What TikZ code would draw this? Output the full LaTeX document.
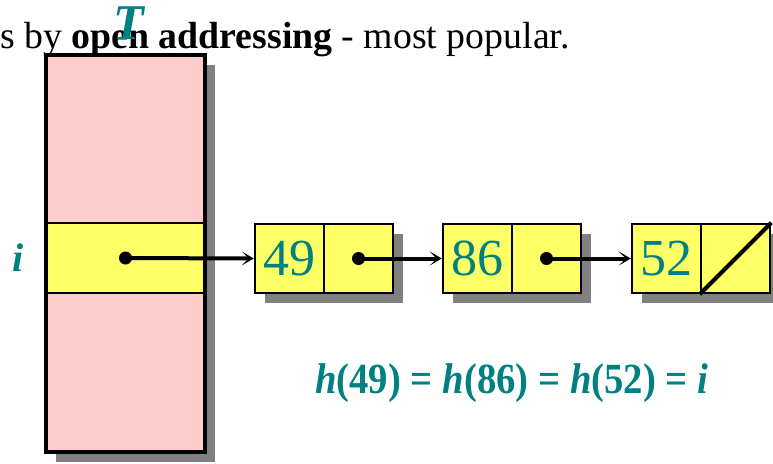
\documentclass[tikz,border=0pt]{standalone}
\usepackage{fontspec}
\newfontfamily\tms{Liberation Serif}
\usetikzlibrary{arrows.meta}
\definecolor{tblpink}{HTML}{FFCCCC}
\definecolor{rowyellow}{HTML}{FFFF66}
\definecolor{labelteal}{HTML}{008080}
\definecolor{shadowgray}{HTML}{808080}
\tikzset{
  cell/.style={draw, line width=2.5pt, fill=rowyellow, minimum width=69pt,
    minimum height=69pt, inner sep=0pt, text=labelteal,
    font=\tms\fontsize{52}{56}\selectfont},
  ptrdot/.style={circle, fill=black, inner sep=0pt, minimum size=13pt},
  ptrline/.style={draw=black, line width=4pt,
    -{Stealth[length=12pt,width=14pt,inset=7pt]}},
  shadowof/.style={fill=shadowgray}
}
\begin{document}
\begin{tikzpicture}[x=1pt,y=-1pt]
\useasboundingbox (0,0) rectangle (773,463);
\clip (0,0) rectangle (773,463);

% heading line
\node[anchor=base west, inner sep=0pt, font=\tms\fontsize{37.8}{40}\selectfont]
  (head) at (0,48) {s by \textbf{open addressing} - most popular.};

% table T with its shadow
\node[minimum width=159pt, minimum height=397pt, inner sep=0pt] (tbl) at (125.5,253.5) {};
\fill[shadowof] ([shift={(10,10)}]tbl.north west) rectangle ([shift={(10,10)}]tbl.south east);
\fill[tblpink] (tbl.north west) rectangle (tbl.south east);
\node[minimum width=159pt, minimum height=69pt, inner sep=0pt, fill=rowyellow] (row) at (125.5,258) {};
\draw[line width=2pt] (row.north west) -- (row.north east) (row.south west) -- (row.south east);
\draw[line width=3.5pt] (tbl.north west) rectangle (tbl.south east);

\node[text=labelteal, font=\tms\fontsize{50}{54}\selectfont\bfseries\itshape] (tname) at (129,23) {T};
\node[text=labelteal, font=\tms\fontsize{40}{44}\selectfont\bfseries\itshape] (ilabel) at (18,258) {i};

% list nodes
\foreach \x in {289.5, 477.5, 666.5}{
  \fill[shadowof] (\x-34.5+10,258.5-34.5+10) rectangle (\x+103.5+10,258.5+34.5+10);
}
\node[cell] (k1) at (289.5,258.5) {49};
\node[cell] (p1) at (358.5,258.5) {};
\node[cell] (k2) at (477.5,258.5) {86};
\node[cell] (p2) at (546.5,258.5) {};
\node[cell] (k3) at (666.5,258.5) {52};
\node[cell] (p3) at (735.5,258.5) {};
\draw[line width=4pt] (p3.south west) -- (p3.north east);

% pointers
\node[ptrdot] (d0) at (row.center) {};
\node[ptrdot] (d1) at (p1.center) {};
\node[ptrdot] (d2) at (p2.center) {};
\path[ptrline] (d0.center) -- (k1.west);
\path[ptrline] (d1.center) -- (k2.west);
\path[ptrline] (d2.center) -- (k3.west);

% hash equation
\node[anchor=base west, inner sep=0pt, text=labelteal, font=\tms\fontsize{43}{48}\selectfont\bfseries]
  (eq) at (315,393) {\scalebox{0.9}[1]{\textit{h}(49) = \textit{h}(86) = \textit{h}(52) = \textit{i}}};
\end{tikzpicture}
\end{document}
